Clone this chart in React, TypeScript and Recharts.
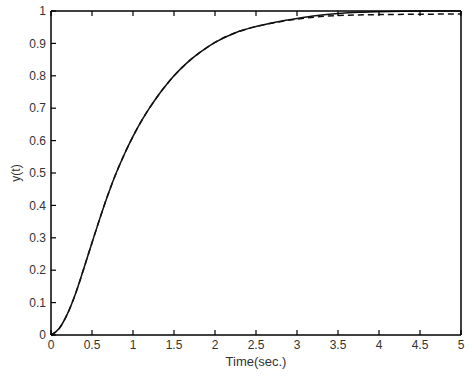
import { LineChart, Line, XAxis, YAxis } from "recharts";

// step response
const time = [0, 0.1, 0.2, 0.3, 0.4, 0.5, 0.6, 0.7, 0.8, 0.9, 1.0, 1.1, 1.2, 1.3, 1.4, 1.5, 1.6, 1.7, 1.8, 1.9, 2.0, 2.25, 2.5, 2.75, 3.0, 3.25, 3.5, 3.75, 4.0, 4.5, 5.0];
const response = [0, 0.02, 0.065, 0.128, 0.205, 0.285, 0.363, 0.437, 0.503, 0.561, 0.613, 0.659, 0.7, 0.737, 0.77, 0.8, 0.826, 0.849, 0.869, 0.887, 0.903, 0.933, 0.952, 0.966, 0.977, 0.986, 0.992, 0.996, 0.998, 1.0, 1.0];
const approx = [0, 0.02, 0.065, 0.128, 0.205, 0.285, 0.363, 0.437, 0.503, 0.561, 0.613, 0.659, 0.7, 0.737, 0.77, 0.8, 0.826, 0.849, 0.869, 0.887, 0.903, 0.933, 0.952, 0.965, 0.975, 0.982, 0.986, 0.988, 0.989, 0.99, 0.991];

const xTicks = [0, 0.5, 1, 1.5, 2, 2.5, 3, 3.5, 4, 4.5, 5];
const yTicks = [0, 0.1, 0.2, 0.3, 0.4, 0.5, 0.6, 0.7, 0.8, 0.9, 1];

const data = time.map((t, i) => ({ t, y: response[i], y2: approx[i] }));

const font = "'Liberation Sans', Arial, sans-serif";
const tickStyle = { fill: "#333", fontSize: 12, fontFamily: font };
const axisLine = { stroke: "#000", strokeWidth: 1.5 };
const tickLine = { stroke: "#000", strokeWidth: 1.2 };
const blank = () => "";

export default function App() {
  return (
    <div style={{ position: "absolute", left: 0, top: 0, background: "#fff" }}>
      <LineChart width={472} height={378} data={data} margin={{ top: 11, right: 11, bottom: 0, left: 0 }}>
        <XAxis
          xAxisId="b"
          dataKey="t"
          type="number"
          domain={[0, 5]}
          ticks={xTicks}
          height={43}
          tick={tickStyle}
          tickSize={-5}
          tickMargin={10}
          tickLine={tickLine}
          axisLine={axisLine}
          label={{ value: "Time(sec.)", position: "insideBottom", offset: 12, fill: "#333", fontSize: 13, fontFamily: font }}
        />
        <XAxis
          xAxisId="t"
          dataKey="t"
          type="number"
          orientation="top"
          mirror
          domain={[0, 5]}
          ticks={xTicks}
          tickFormatter={blank}
          tickSize={5}
          tickLine={tickLine}
          axisLine={axisLine}
        />
        <YAxis
          yAxisId="l"
          type="number"
          domain={[0, 1]}
          ticks={yTicks}
          width={51}
          tick={tickStyle}
          tickSize={-5}
          tickMargin={10}
          tickLine={tickLine}
          axisLine={axisLine}
          label={{ value: "y(t)", angle: -90, position: "insideLeft", offset: 16, fill: "#333", fontSize: 12, fontFamily: font, style: { textAnchor: "middle" } }}
        />
        <YAxis
          yAxisId="r"
          type="number"
          orientation="right"
          mirror
          domain={[0, 1]}
          ticks={yTicks}
          tickFormatter={blank}
          tickSize={5}
          tickLine={tickLine}
          axisLine={axisLine}
        />
        <Line
          xAxisId="b"
          yAxisId="l"
          dataKey="y2"
          type="monotone"
          stroke="#111"
          strokeWidth={1.5}
          strokeDasharray="6 4"
          dot={false}
          isAnimationActive={false}
        />
        <Line
          xAxisId="b"
          yAxisId="l"
          dataKey="y"
          type="monotone"
          stroke="#111"
          strokeWidth={1.5}
          dot={false}
          isAnimationActive={false}
        />
      </LineChart>
    </div>
  );
}
